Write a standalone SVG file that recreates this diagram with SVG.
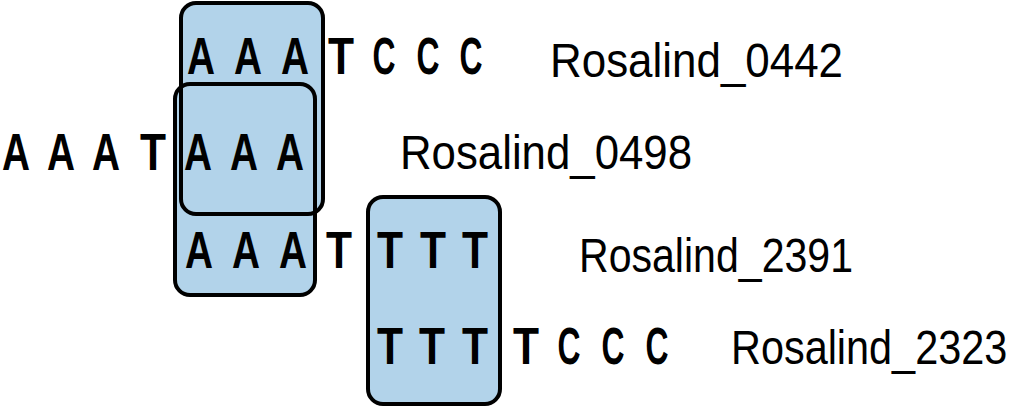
<svg xmlns="http://www.w3.org/2000/svg" xmlns:xlink="http://www.w3.org/1999/xlink" width="1020" height="408" viewBox="0 0 1020 408">
<style>
.box{fill:#b2d3ea}
.edge{fill:none;stroke:#000;stroke-width:4}
.b{font-family:"Liberation Sans",Arial,sans-serif;font-weight:700;font-size:52px;text-anchor:middle;fill:#000}
.lbl{font-family:"Liberation Sans",Arial,sans-serif;font-size:49px;fill:#000}
</style>
<defs>
<rect id="r1" x="181" y="3" width="142" height="211" rx="15"/>
<rect id="r2" x="175" y="84" width="140" height="211" rx="15"/>
<rect id="r3" x="368" y="197" width="132" height="207" rx="15"/>
</defs>
<g id="overlap-boxes">
<use href="#r1" class="box"/>
<use href="#r2" class="box"/>
<use href="#r3" class="box"/>
<use href="#r1" class="edge"/>
<use href="#r2" class="edge"/>
<use href="#r3" class="edge"/>
</g>
<g id="connectors"></g>
<g id="read-0442">
<text class="b" x="201" y="74" textLength="28" lengthAdjust="spacingAndGlyphs">A</text>
<text class="b" x="248" y="74" textLength="28" lengthAdjust="spacingAndGlyphs">A</text>
<text class="b" x="295" y="74" textLength="28" lengthAdjust="spacingAndGlyphs">A</text>
<text class="b" x="341" y="74" textLength="26" lengthAdjust="spacingAndGlyphs">T</text>
<text class="b" x="384" y="74" textLength="23" lengthAdjust="spacingAndGlyphs">C</text>
<text class="b" x="428" y="74" textLength="23" lengthAdjust="spacingAndGlyphs">C</text>
<text class="b" x="471" y="74" textLength="23" lengthAdjust="spacingAndGlyphs">C</text>
<text class="lbl" x="550" y="77" textLength="293" lengthAdjust="spacingAndGlyphs">Rosalind_0442</text>
</g>
<g id="read-0498">
<text class="b" x="16" y="170" textLength="28" lengthAdjust="spacingAndGlyphs">A</text>
<text class="b" x="61" y="170" textLength="28" lengthAdjust="spacingAndGlyphs">A</text>
<text class="b" x="106" y="170" textLength="28" lengthAdjust="spacingAndGlyphs">A</text>
<text class="b" x="153" y="170" textLength="26" lengthAdjust="spacingAndGlyphs">T</text>
<text class="b" x="198" y="170" textLength="28" lengthAdjust="spacingAndGlyphs">A</text>
<text class="b" x="244" y="170" textLength="28" lengthAdjust="spacingAndGlyphs">A</text>
<text class="b" x="290" y="170" textLength="28" lengthAdjust="spacingAndGlyphs">A</text>
<text class="lbl" x="400" y="169" textLength="292" lengthAdjust="spacingAndGlyphs">Rosalind_0498</text>
</g>
<g id="read-2391">
<text class="b" x="199" y="268" textLength="28" lengthAdjust="spacingAndGlyphs">A</text>
<text class="b" x="246" y="268" textLength="28" lengthAdjust="spacingAndGlyphs">A</text>
<text class="b" x="293" y="268" textLength="28" lengthAdjust="spacingAndGlyphs">A</text>
<text class="b" x="339" y="268" textLength="26" lengthAdjust="spacingAndGlyphs">T</text>
<text class="b" x="390" y="268" textLength="26" lengthAdjust="spacingAndGlyphs">T</text>
<text class="b" x="433" y="268" textLength="26" lengthAdjust="spacingAndGlyphs">T</text>
<text class="b" x="475" y="268" textLength="26" lengthAdjust="spacingAndGlyphs">T</text>
<text class="lbl" x="579" y="272" textLength="274" lengthAdjust="spacingAndGlyphs">Rosalind_2391</text>
</g>
<g id="read-2323">
<text class="b" x="390" y="364" textLength="26" lengthAdjust="spacingAndGlyphs">T</text>
<text class="b" x="432" y="364" textLength="26" lengthAdjust="spacingAndGlyphs">T</text>
<text class="b" x="475" y="364" textLength="26" lengthAdjust="spacingAndGlyphs">T</text>
<text class="b" x="526" y="364" textLength="26" lengthAdjust="spacingAndGlyphs">T</text>
<text class="b" x="569" y="364" textLength="23" lengthAdjust="spacingAndGlyphs">C</text>
<text class="b" x="613" y="364" textLength="23" lengthAdjust="spacingAndGlyphs">C</text>
<text class="b" x="657" y="364" textLength="23" lengthAdjust="spacingAndGlyphs">C</text>
<text class="lbl" transform="translate(731,364) scale(0.845,1)">Rosalind_2323</text>
</g>
</svg>
